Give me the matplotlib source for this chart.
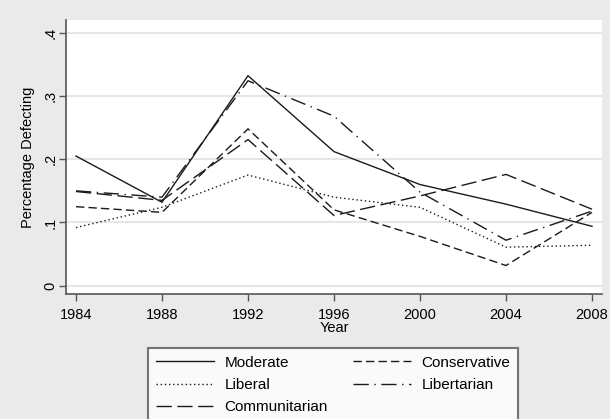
"""
Percentage defecting by ideological group, 1984-2008 (Stata-style line chart)
"""

import matplotlib
matplotlib.use('Agg')
import matplotlib.pyplot as plt

plt.rcParams['font.family'] = ['Liberation Sans', 'DejaVu Sans']

# data
years = [1984, 1988, 1992, 1996, 2000, 2004, 2008]
moderate = [0.205, 0.132, 0.332, 0.212, 0.160, 0.129, 0.094]
conservative = [0.125, 0.116, 0.248, 0.120, 0.078, 0.032, 0.116]
liberal = [0.092, 0.124, 0.175, 0.140, 0.124, 0.061, 0.064]
libertarian = [0.150, 0.140, 0.324, 0.268, 0.148, 0.072, 0.118]
communitarian = [0.149, 0.135, 0.231, 0.111, 0.142, 0.176, 0.121]
yticks = [0, 0.1, 0.2, 0.3, 0.4]
ytick_labels = ['0', '.1', '.2', '.3', '.4']

BG = '#eaeaea'
INK = '#1a1a1a'

fig = plt.figure(figsize=(6.1, 4.19), dpi=100, facecolor=BG)
# plot area in pixels: x 66..602, y 20..294
ax = fig.add_axes([66 / 610, 1 - 294 / 419, 536 / 610, 274 / 419])
ax.set_facecolor('white')

lw = 1.0
l_mod, = ax.plot(years, moderate, color=INK, lw=lw, ls='-', label='Moderate')
l_con, = ax.plot(years, conservative, color=INK, lw=lw, ls=(0, (6, 3)), label='Conservative')
l_lib, = ax.plot(years, liberal, color=INK, lw=lw, ls=(0, (1, 2)), label='Liberal')
l_ltn, = ax.plot(years, libertarian, color=INK, lw=lw, ls=(0, (11, 4, 1, 4)), label='Libertarian')
l_com, = ax.plot(years, communitarian, color=INK, lw=lw, ls=(0, (11, 4)), label='Communitarian')

ax.set_xlim(1983.535, 2008.465)
ax.set_ylim(-0.013, 0.42)
ax.set_xticks(years)
ax.set_xticklabels([str(y) for y in years], fontsize=10.5)
ax.set_yticks(yticks)
ax.set_yticklabels(ytick_labels, fontsize=10.5, rotation=90, va='center')

ax.yaxis.grid(True, color='#e6e6e6', lw=1.5)
ax.set_axisbelow(True)
for side in ['top', 'right']:
    ax.spines[side].set_visible(False)
for side in ['left', 'bottom']:
    ax.spines[side].set_color('#555555')
    ax.spines[side].set_linewidth(1.2)
ax.tick_params(direction='out', length=5, width=1, color='#555555')
ax.tick_params(axis='x', pad=5)
ax.tick_params(axis='y', pad=1)

ax.set_xlabel('Year', fontsize=10.5, labelpad=-1)
ax.set_ylabel('Percentage Defecting', fontsize=10.5, labelpad=6)

leg = fig.legend(handles=[l_mod, l_lib, l_com, l_con, l_ltn], ncol=2,
                 loc='upper left', bbox_to_anchor=(148 / 610, 1 - 348 / 419),
                 borderaxespad=0, fontsize=11, frameon=True, fancybox=False,
                 handlelength=3.8, handletextpad=0.7, columnspacing=1.65,
                 labelspacing=0.55, borderpad=0.5)
leg.get_frame().set_edgecolor('#555555')
leg.get_frame().set_linewidth(1.5)
leg.get_frame().set_facecolor('white')

fig.savefig('out.png', dpi=100, facecolor=BG)
